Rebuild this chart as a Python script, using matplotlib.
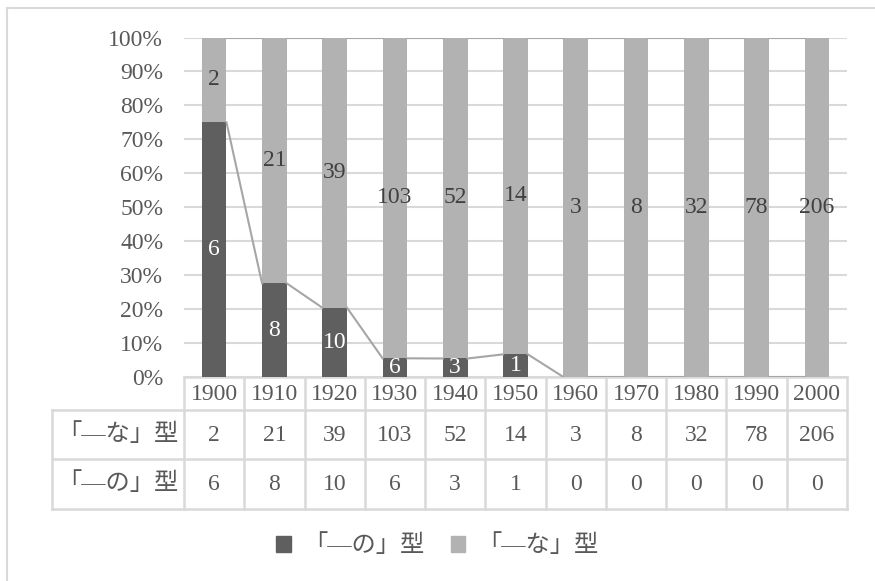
import matplotlib
matplotlib.use("Agg")
from matplotlib import pyplot as plt
from matplotlib.patches import Patch

years = ["1900", "1910", "1920", "1930", "1940", "1950",
         "1960", "1970", "1980", "1990", "2000"]
na_counts = [2, 21, 39, 103, 52, 14, 3, 8, 32, 78, 206]
no_counts = [6, 8, 10, 6, 3, 1, 0, 0, 0, 0, 0]
na_label = "「—な」型"
no_label = "「—の」型"

DARK = "#5f5f5f"
LIGHT = "#b2b2b2"
GRID = "#d9d9d9"
TEXT = "#595959"
FONT = ["Liberation Serif", "Noto Sans CJK JP"]
FS = 17

plt.rcParams["font.family"] = FONT

W, H = 875, 581
fig = plt.figure(figsize=(W / 100, H / 100), dpi=100)

# pixel layout of the plot area
x0, x1 = 184, 847
y_top, y_bot = 37.5, 377
ax = fig.add_axes([x0 / W, 1 - y_bot / H, (x1 - x0) / W, (y_bot - y_top) / H])

n = len(years)
totals = [a + b for a, b in zip(na_counts, no_counts)]
no_share = [b / t for b, t in zip(no_counts, totals)]
na_share = [a / t for a, t in zip(na_counts, totals)]
xs = list(range(n))
bw = 0.41

ax.bar(xs, no_share, width=bw, color=DARK, zorder=3)
ax.bar(xs, na_share, width=bw, bottom=no_share, color=LIGHT, zorder=3)

# series lines between stacked segments
for i in range(n - 1):
    ax.plot([i + bw / 2, i + 1 - bw / 2], [no_share[i], no_share[i + 1]],
            color="#a6a6a6", lw=1.5, zorder=4)
    ax.plot([i + bw / 2, i + 1 - bw / 2], [1, 1],
            color="#a6a6a6", lw=1.5, zorder=4)

# value labels
for i in range(n):
    if no_counts[i] > 0:
        ax.text(i, no_share[i] / 2, str(no_counts[i]), ha="center", va="center",
                color="white", fontsize=FS, zorder=5)
    ax.text(i, no_share[i] + na_share[i] / 2, str(na_counts[i]), ha="center",
            va="center", color="#404040", fontsize=FS, zorder=5)

ax.set_xlim(-0.5, n - 0.5)
ax.set_ylim(0, 1)
ax.set_yticks([k / 10 for k in range(11)])
ax.set_yticklabels([f"{k * 10}%" for k in range(11)])
ax.tick_params(axis="y", length=0, pad=15, labelsize=FS, labelcolor=TEXT)
ax.set_xticks([])
ax.yaxis.grid(True, color=GRID, lw=1.5, zorder=0)
for s in ax.spines.values():
    s.set_visible(False)

# data table below the plot
lab_x = 52
rows_y = [377, 410, 459, 509]
cw = (x1 - x0) / n
tab = fig.add_axes([0, 0, 1, 1], zorder=-1)
tab.set_xlim(0, W)
tab.set_ylim(H, 0)
tab.axis("off")

lk = dict(color=GRID, lw=1.8, solid_capstyle="projecting")
tab.plot([x0, x1], [rows_y[0]] * 2, **lk)
for yy in rows_y[1:]:
    tab.plot([lab_x, x1], [yy] * 2, **lk)
tab.plot([lab_x, lab_x], [rows_y[1], rows_y[3]], **lk)
for j in range(n + 1):
    xx = x0 + j * cw
    tab.plot([xx, xx], [rows_y[0], rows_y[3]], **lk)

for j in range(n):
    cx = x0 + (j + 0.5) * cw
    tab.text(cx, (rows_y[0] + rows_y[1]) / 2 + 1, years[j], ha="center",
             va="center", fontsize=FS, color=TEXT)
    tab.text(cx, (rows_y[1] + rows_y[2]) / 2 + 1, str(na_counts[j]),
             ha="center", va="center", fontsize=FS, color=TEXT)
    tab.text(cx, (rows_y[2] + rows_y[3]) / 2 + 1, str(no_counts[j]),
             ha="center", va="center", fontsize=FS, color=TEXT)
lab_cx = (lab_x + x0) / 2
tab.text(lab_cx, (rows_y[1] + rows_y[2]) / 2, na_label, ha="center",
         va="center", fontsize=FS + 0.5, color=TEXT)
tab.text(lab_cx, (rows_y[2] + rows_y[3]) / 2, no_label, ha="center",
         va="center", fontsize=FS + 0.5, color=TEXT)

# chart border (top and left edges)
tab.plot([7, W], [8, 8], color=GRID, lw=1.5)
tab.plot([7, 7], [8, H], color=GRID, lw=1.5)

handles = [Patch(color=DARK, label=no_label), Patch(color=LIGHT, label=na_label)]
leg = fig.legend(handles=handles, loc="center", bbox_to_anchor=(0.5, 1 - 546 / H),
                 ncol=2, frameon=False, fontsize=FS + 0.5, handlelength=0.6,
                 handleheight=0.6, handletextpad=0.5, columnspacing=1.1)
for t in leg.get_texts():
    t.set_color(TEXT)

fig.savefig("out.png", dpi=100, facecolor="white")
